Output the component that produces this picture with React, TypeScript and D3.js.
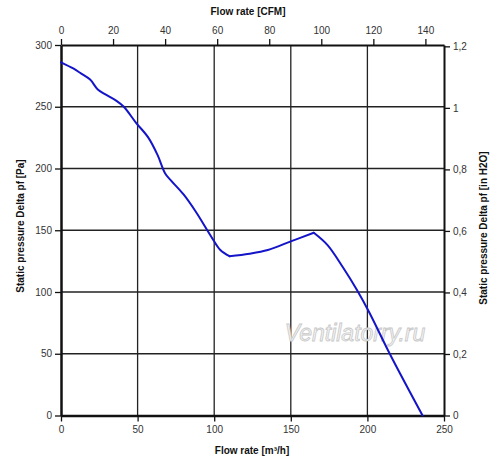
import { useEffect, useRef } from 'react'
import * as d3 from 'd3'

// flow rate in m³/h and static pressure in Pa
const flow = [0, 8, 13, 19, 24, 29, 36, 41, 49, 57, 63, 68, 72, 80, 88, 98, 104, 110, 123, 135, 150, 165, 174, 184, 193, 201, 215, 236]
const pressure = [286, 281, 277, 272, 264, 260, 255, 250, 237, 225, 211, 196, 190, 179, 165, 145, 134, 129, 131, 134, 141, 148, 138, 120, 102, 84, 49, 0]

const flowTicks = [0, 50, 100, 150, 200, 250]
const pressureTicks = [0, 50, 100, 150, 200, 250, 300]
const cfmTicks = [0, 20, 40, 60, 80, 100, 120, 140]
const inchTicks = [0, 0.2, 0.4, 0.6, 0.8, 1, 1.2]

const M3H_PER_CFM = 1.699
const PA_PER_INCH = 249.09

const W = 500
const H = 470
const left = 61, right = 444, top = 45, bottom = 415.5

export default function App() {
    const ref = useRef<SVGSVGElement>(null)

    useEffect(() => {
        draw()
    })

    const draw = () => {
        const svg = d3.select(ref.current)
        svg.selectAll('*').remove()
        const font = 'Arial, "Liberation Sans", sans-serif'

        const x = d3.scaleLinear().domain([0, 250]).range([left, right])
        const y = d3.scaleLinear().domain([0, 300]).range([bottom, top])
        const xCfm = d3.scaleLinear().domain([0, 250 / M3H_PER_CFM]).range([left, right])
        const yIn = d3.scaleLinear().domain([0, 300 / PA_PER_INCH]).range([bottom, top])

        // grid
        const grid = svg.append('g').attr('stroke', '#222').attr('stroke-width', 1.3)
        grid.selectAll('line.v')
            .data(flowTicks.slice(1, -1))
            .enter().append('line')
            .attr('x1', d => x(d)).attr('x2', d => x(d))
            .attr('y1', top).attr('y2', bottom)
        grid.selectAll('line.h')
            .data(pressureTicks.slice(1, -1))
            .enter().append('line')
            .attr('class', 'h')
            .attr('x1', left).attr('x2', right)
            .attr('y1', d => y(d)).attr('y2', d => y(d))

        const styleAxis = (g) => {
            g.selectAll('.domain').attr('stroke', '#111').attr('stroke-width', 2)
            g.selectAll('.tick line').attr('stroke', '#111').attr('stroke-width', 1.3)
            g.selectAll('text').attr('font-family', font).attr('font-size', 10).attr('fill', '#333')
        }

        const gBottom = svg.append('g').attr('transform', `translate(0,${bottom})`)
            .call(d3.axisBottom(x).tickValues(flowTicks).tickSize(6).tickSizeOuter(0).tickPadding(4))
        styleAxis(gBottom)
        const gLeft = svg.append('g').attr('transform', `translate(${left},0)`)
            .call(d3.axisLeft(y).tickValues(pressureTicks).tickSize(6).tickSizeOuter(0).tickPadding(3))
        styleAxis(gLeft)
        const gTop = svg.append('g').attr('transform', `translate(0,${top})`)
            .call(d3.axisTop(xCfm).tickValues(cfmTicks).tickSize(6).tickSizeOuter(0).tickPadding(5))
        styleAxis(gTop)
        const gRight = svg.append('g').attr('transform', `translate(${right},0)`)
            .call(d3.axisRight(yIn).tickValues(inchTicks).tickSize(6).tickSizeOuter(0).tickPadding(3)
                .tickFormat(d => String(d).replace('.', ',')))
        styleAxis(gRight)
        gLeft.select('.domain').attr('stroke-width', 2.5)
        gBottom.select('.domain').attr('stroke-width', 2.5)

        // watermark
        svg.append('text')
            .attr('x', 355).attr('y', 341)
            .attr('text-anchor', 'middle')
            .attr('font-family', font)
            .attr('font-style', 'italic')
            .attr('font-size', 23)
            .attr('fill', '#f4f4f4')
            .attr('stroke', '#c8c8c8')
            .attr('stroke-width', 0.8)
            .text('Ventilatorry.ru')

        // curve: smooth pieces, sharp corners at the dip and the peak
        const breaks = [0]
        for (let i = 1; i < pressure.length - 1; i++) {
            if ((pressure[i] - pressure[i - 1]) * (pressure[i + 1] - pressure[i]) < 0) breaks.push(i)
        }
        breaks.push(pressure.length - 1)
        const pts = flow.map((f, i) => [f, pressure[i]] as [number, number])
        const line = d3.line<[number, number]>()
            .x(d => x(d[0]))
            .y(d => y(d[1]))
            .curve(d3.curveCatmullRom.alpha(0.5))
        for (let k = 0; k < breaks.length - 1; k++) {
            svg.append('path')
                .datum(pts.slice(breaks[k], breaks[k + 1] + 1))
                .attr('fill', 'none')
                .attr('stroke', '#1414c8')
                .attr('stroke-width', 2)
                .attr('stroke-linejoin', 'round')
                .attr('stroke-linecap', 'round')
                .attr('d', line)
        }

        // titles
        const title = (tx, ty, rot, txt) => svg.append('text')
            .attr('transform', `translate(${tx},${ty}) rotate(${rot})`)
            .attr('text-anchor', 'middle')
            .attr('font-family', font)
            .attr('font-weight', 'bold')
            .attr('font-size', 10)
            .attr('fill', '#111')
            .text(txt)
        title(248, 15, 0, 'Flow rate [CFM]')
        title(252, 454, 0, 'Flow rate [m³/h]')
        title(24, 226, -90, 'Static pressure Delta pf [Pa]')
        title(487, 228, -90, 'Static pressure Delta pf [in H2O]')
    }

    return <svg ref={ref} width={W} height={H} style={{ position: 'absolute', left: 0, top: 0, background: '#fff' }} />
}
